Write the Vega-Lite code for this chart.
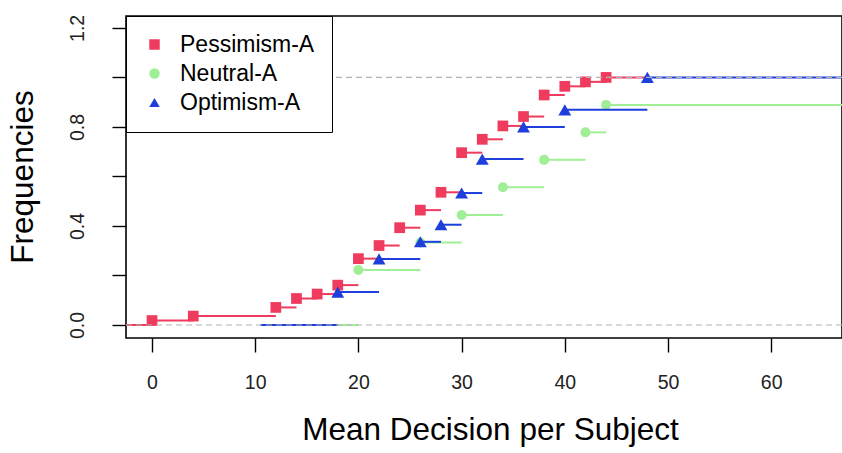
{
  "$schema": "https://vega.github.io/schema/vega-lite/v6.json",
  "width": 716,
  "height": 322,
  "autosize": {"type": "none"},
  "padding": {"left": 126, "top": 16, "right": 0, "bottom": 115},
  "background": "white",
  "datasets": {
    "steps": [
      {"series": "Pessimism-A", "x": -3, "x2": 0, "y": 0},
      {"series": "Pessimism-A", "x": 0, "x2": 4, "y": 0.018},
      {"series": "Pessimism-A", "x": 4, "x2": 12, "y": 0.036},
      {"series": "Pessimism-A", "x": 12, "x2": 14, "y": 0.071},
      {"series": "Pessimism-A", "x": 14, "x2": 16, "y": 0.107},
      {"series": "Pessimism-A", "x": 16, "x2": 18, "y": 0.125},
      {"series": "Pessimism-A", "x": 18, "x2": 20, "y": 0.161},
      {"series": "Pessimism-A", "x": 20, "x2": 22, "y": 0.268},
      {"series": "Pessimism-A", "x": 22, "x2": 24, "y": 0.321},
      {"series": "Pessimism-A", "x": 24, "x2": 26, "y": 0.393},
      {"series": "Pessimism-A", "x": 26, "x2": 28, "y": 0.464},
      {"series": "Pessimism-A", "x": 28, "x2": 30, "y": 0.536},
      {"series": "Pessimism-A", "x": 30, "x2": 32, "y": 0.696},
      {"series": "Pessimism-A", "x": 32, "x2": 34, "y": 0.75},
      {"series": "Pessimism-A", "x": 34, "x2": 36, "y": 0.804},
      {"series": "Pessimism-A", "x": 36, "x2": 38, "y": 0.842},
      {"series": "Pessimism-A", "x": 38, "x2": 40, "y": 0.929},
      {"series": "Pessimism-A", "x": 40, "x2": 42, "y": 0.964},
      {"series": "Pessimism-A", "x": 42, "x2": 44, "y": 0.982},
      {"series": "Pessimism-A", "x": 44, "x2": 48, "y": 1.0},
      {"series": "Neutral-A", "x": 18, "x2": 20, "y": 0},
      {"series": "Neutral-A", "x": 20, "x2": 26, "y": 0.222},
      {"series": "Neutral-A", "x": 26, "x2": 30, "y": 0.333},
      {"series": "Neutral-A", "x": 30, "x2": 34, "y": 0.444},
      {"series": "Neutral-A", "x": 34, "x2": 38, "y": 0.556},
      {"series": "Neutral-A", "x": 38, "x2": 42, "y": 0.667},
      {"series": "Neutral-A", "x": 42, "x2": 44, "y": 0.778},
      {"series": "Neutral-A", "x": 44, "x2": 70, "y": 0.889},
      {"series": "Optimism-A", "x": 10.5, "x2": 18, "y": 0},
      {"series": "Optimism-A", "x": 18, "x2": 22, "y": 0.133},
      {"series": "Optimism-A", "x": 22, "x2": 26, "y": 0.267},
      {"series": "Optimism-A", "x": 26, "x2": 28, "y": 0.336},
      {"series": "Optimism-A", "x": 28, "x2": 30, "y": 0.405},
      {"series": "Optimism-A", "x": 30, "x2": 32, "y": 0.533},
      {"series": "Optimism-A", "x": 32, "x2": 36, "y": 0.67},
      {"series": "Optimism-A", "x": 36, "x2": 40, "y": 0.8},
      {"series": "Optimism-A", "x": 40, "x2": 48, "y": 0.869},
      {"series": "Optimism-A", "x": 48, "x2": 70, "y": 1.0}
    ],
    "points": [
      {"series": "Pessimism-A", "x": 0, "y": 0.018},
      {"series": "Pessimism-A", "x": 4, "y": 0.036},
      {"series": "Pessimism-A", "x": 12, "y": 0.071},
      {"series": "Pessimism-A", "x": 14, "y": 0.107},
      {"series": "Pessimism-A", "x": 16, "y": 0.125},
      {"series": "Pessimism-A", "x": 18, "y": 0.161},
      {"series": "Pessimism-A", "x": 20, "y": 0.268},
      {"series": "Pessimism-A", "x": 22, "y": 0.321},
      {"series": "Pessimism-A", "x": 24, "y": 0.393},
      {"series": "Pessimism-A", "x": 26, "y": 0.464},
      {"series": "Pessimism-A", "x": 28, "y": 0.536},
      {"series": "Pessimism-A", "x": 30, "y": 0.696},
      {"series": "Pessimism-A", "x": 32, "y": 0.75},
      {"series": "Pessimism-A", "x": 34, "y": 0.804},
      {"series": "Pessimism-A", "x": 36, "y": 0.842},
      {"series": "Pessimism-A", "x": 38, "y": 0.929},
      {"series": "Pessimism-A", "x": 40, "y": 0.964},
      {"series": "Pessimism-A", "x": 42, "y": 0.982},
      {"series": "Pessimism-A", "x": 44, "y": 1.0},
      {"series": "Neutral-A", "x": 20, "y": 0.222},
      {"series": "Neutral-A", "x": 26, "y": 0.333},
      {"series": "Neutral-A", "x": 30, "y": 0.444},
      {"series": "Neutral-A", "x": 34, "y": 0.556},
      {"series": "Neutral-A", "x": 38, "y": 0.667},
      {"series": "Neutral-A", "x": 42, "y": 0.778},
      {"series": "Neutral-A", "x": 44, "y": 0.889},
      {"series": "Optimism-A", "x": 18, "y": 0.133},
      {"series": "Optimism-A", "x": 22, "y": 0.267},
      {"series": "Optimism-A", "x": 26, "y": 0.336},
      {"series": "Optimism-A", "x": 28, "y": 0.405},
      {"series": "Optimism-A", "x": 30, "y": 0.533},
      {"series": "Optimism-A", "x": 32, "y": 0.67},
      {"series": "Optimism-A", "x": 36, "y": 0.8},
      {"series": "Optimism-A", "x": 40, "y": 0.869},
      {"series": "Optimism-A", "x": 48, "y": 1.0}
    ],
    "reflines": [{"y": 0}, {"y": 1}]
  },
  "encoding": {
    "x": {
      "field": "x", "type": "quantitative",
      "scale": {"domain": [-2.52, 66.86], "nice": false, "zero": false},
      "axis": {
        "title": "Mean Decision per Subject",
        "values": [0, 10, 20, 30, 40, 50, 60],
        "titleX": 364, "titleY": 101, "titleAlign": "center", "titleBaseline": "alphabetic"
      }
    },
    "y": {
      "field": "y", "type": "quantitative",
      "scale": {"domain": [-0.0525, 1.248], "nice": false, "zero": false},
      "axis": {
        "title": "Frequencies",
        "values": [0, 0.2, 0.4, 0.6, 0.8, 1.0, 1.2],
        "labelExpr": "round(datum.value*10) % 4 == 0 ? format(datum.value, '.1f') : ''",
        "labelAngle": -90, "labelAlign": "center", "labelBaseline": "alphabetic", "labelPadding": 29,
        "titleX": -94, "titleY": 160.5, "titleAngle": -90, "titleAlign": "center", "titleBaseline": "alphabetic"
      }
    }
  },
  "layer": [
    {
      "data": {"name": "steps"},
      "transform": [{"filter": "datum.series == 'Pessimism-A'"}],
      "mark": {"type": "rule", "color": "#EE3B5E", "strokeWidth": 2, "clip": true},
      "encoding": {"x2": {"field": "x2"}}
    },
    {
      "data": {"name": "points"},
      "transform": [{"filter": "datum.series == 'Pessimism-A'"}],
      "mark": {"type": "point", "filled": true, "opacity": 1, "size": 115, "clip": true},
      "encoding": {
        "color": {"field": "series", "type": "nominal",
          "scale": {"domain": ["Pessimism-A", "Neutral-A", "Optimism-A"], "range": ["#EE3B5E", "#A0EE96", "#1F3FDC"]},
          "legend": {"orient": "none", "legendX": 0, "legendY": 0, "title": null}},
        "shape": {"field": "series", "type": "nominal",
          "scale": {"domain": ["Pessimism-A", "Neutral-A", "Optimism-A"], "range": ["square", "circle", "triangle-up"]},
          "legend": {"orient": "none", "legendX": 0, "legendY": 0, "title": null}}
      }
    },
    {
      "data": {"name": "steps"},
      "transform": [{"filter": "datum.series == 'Neutral-A'"}],
      "mark": {"type": "rule", "color": "#A0EE96", "strokeWidth": 2, "clip": true},
      "encoding": {"x2": {"field": "x2"}}
    },
    {
      "data": {"name": "points"},
      "transform": [{"filter": "datum.series == 'Neutral-A'"}],
      "mark": {"type": "point", "filled": true, "opacity": 1, "size": 100, "clip": true},
      "encoding": {
        "color": {"field": "series", "type": "nominal"},
        "shape": {"field": "series", "type": "nominal"}
      }
    },
    {
      "data": {"name": "steps"},
      "transform": [{"filter": "datum.series == 'Optimism-A'"}],
      "mark": {"type": "rule", "color": "#1F3FDC", "strokeWidth": 2, "clip": true},
      "encoding": {"x2": {"field": "x2"}}
    },
    {
      "data": {"name": "points"},
      "transform": [{"filter": "datum.series == 'Optimism-A'"}],
      "mark": {"type": "point", "filled": true, "opacity": 1, "size": 165, "clip": true},
      "encoding": {
        "color": {"field": "series", "type": "nominal"},
        "shape": {"field": "series", "type": "nominal"}
      }
    },
    {
      "data": {"name": "reflines"},
      "mark": {"type": "rule", "color": "#B3B3B3", "strokeWidth": 1.2, "strokeDash": [6, 4]},
      "encoding": {"x": null, "y": {"field": "y", "type": "quantitative"}}
    }
  ],
  "config": {
    "view": {"stroke": "black", "strokeWidth": 1.6},
    "font": "Liberation Sans",
    "axis": {
      "grid": false,
      "domain": false,
      "ticks": true,
      "tickColor": "black",
      "tickSize": 14,
      "tickWidth": 1.4,
      "labelFont": "Liberation Sans",
      "labelFontSize": 19.5,
      "labelColor": "#222222",
      "titleFont": "Liberation Sans",
      "titleFontSize": 31.5,
      "titleFontWeight": "normal",
      "titleColor": "black"
    },
    "axisX": {"labelPadding": 21},
    "legend": {
      "strokeColor": "black",
      "fillColor": "white",
      "padding": 17,
      "labelFont": "Liberation Sans",
      "labelFontSize": 23,
      "labelColor": "black",
      "labelOffset": 14,
      "rowPadding": 5,
      "symbolSize": 110,
      "symbolStrokeWidth": 0,
      "symbolOpacity": 1
    }
  }
}
